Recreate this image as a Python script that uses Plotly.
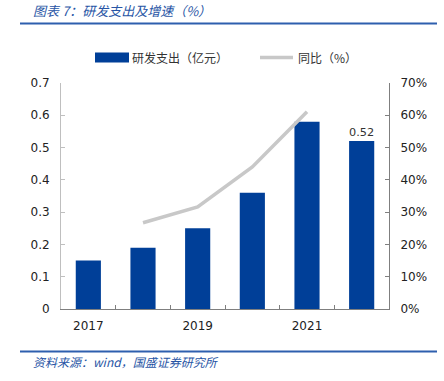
import plotly.graph_objects as go

years = ["2017", "2018", "2019", "2020", "2021", "2022"]
rd_spend = [0.15, 0.19, 0.25, 0.36, 0.58, 0.52]
growth = [None, 26.7, 31.6, 44.0, 61.1, None]
tick_text = ["2017", "", "2019", "", "2021", ""]
bar_labels = ["", "", "", "", "", "0.52"]

W, H = 444, 381
L, R, T, B = 61, 389, 83, 309

def px(x):
    return (x - L) / (R - L)

def py(y):
    return (B - y) / (B - T)

BLUE = "#003f98"
GREY = "#c8c8c8"
TXT_BLUE = "#2855a5"
FONT = "DejaVu Sans"
CJK = "Noto Sans CJK SC"

fig = go.Figure()
fig.add_trace(go.Bar(
    x=years, y=rd_spend, marker=dict(color=BLUE, line=dict(width=0)),
    text=bar_labels, textposition="outside", cliponaxis=False,
    textfont=dict(family=FONT, size=13, color="#333333"),
    name="研发支出（亿元）", hoverinfo="x+y",
))
fig.add_trace(go.Scatter(
    x=years, y=growth, yaxis="y2", mode="lines",
    line=dict(color=GREY, width=3.5), name="同比（%）",
    connectgaps=False,
))

shapes = [
    dict(type="line", xref="paper", yref="paper", x0=px(20), x1=px(437), y0=py(23.5), y1=py(23.5),
         line=dict(color="#2e5fae", width=2)),
    dict(type="line", xref="paper", yref="paper", x0=px(20), x1=px(437), y0=py(351.5), y1=py(351.5),
         line=dict(color="#2e5fae", width=2)),
    dict(type="rect", xref="paper", yref="paper", x0=px(95), x1=px(129), y0=py(62.5), y1=py(52.5),
         fillcolor=BLUE, line=dict(width=0)),
    dict(type="line", xref="paper", yref="paper", x0=px(260), x1=px(293), y0=py(57.5), y1=py(57.5),
         line=dict(color=GREY, width=3.5)),
]

annotations = [
    dict(text="<i>图表 7：研发支出及增速（%）</i>", xref="paper", yref="paper", x=px(31), y=py(11),
         xanchor="left", yanchor="middle", showarrow=False,
         font=dict(family=CJK, size=13, color=TXT_BLUE)),
    dict(text="<i>资料来源：wind，国盛证券研究所</i>", xref="paper", yref="paper", x=px(31), y=py(361),
         xanchor="left", yanchor="middle", showarrow=False,
         font=dict(family=CJK, size=12, color=TXT_BLUE)),
    dict(text="研发支出（亿元）", xref="paper", yref="paper", x=px(130), y=py(57.5),
         xanchor="left", yanchor="middle", showarrow=False,
         font=dict(family=CJK, size=12, color="#333333")),
    dict(text="同比（%）", xref="paper", yref="paper", x=px(296), y=py(57.5),
         xanchor="left", yanchor="middle", showarrow=False,
         font=dict(family=CJK, size=12, color="#333333")),
]

fig.update_layout(
    width=W, height=H,
    margin=dict(l=L, r=W - R, t=T, b=H - B, pad=0),
    paper_bgcolor="white", plot_bgcolor="white",
    showlegend=False, bargap=0.54,
    shapes=shapes, annotations=annotations,
    xaxis=dict(
        type="category", tickmode="array", tickvals=years, ticktext=tick_text,
        tickson="boundaries", ticks="inside", ticklen=4, tickcolor="#7f7f7f",
        showline=True, linecolor="#7f7f7f", linewidth=1, showgrid=False,
        tickfont=dict(family=FONT, size=12, color="#222222"),
        ticklabelstandoff=6, range=[-0.5, 5.5],
    ),
    yaxis=dict(
        range=[0, 0.7], dtick=0.1, tick0=0, ticks="inside", ticklen=4, tickcolor="#bfbfbf",
        showline=True, linecolor="#bfbfbf", linewidth=1, showgrid=False, zeroline=False,
        tickfont=dict(family=FONT, size=12, color="#222222"), ticklabelstandoff=8,
    ),
    yaxis2=dict(
        overlaying="y", side="right", range=[0, 70], dtick=10, tick0=0, ticksuffix="%",
        ticks="inside", ticklen=4, tickcolor="#7f7f7f",
        showline=True, linecolor="#7f7f7f", linewidth=1, showgrid=False, zeroline=False,
        tickfont=dict(family=FONT, size=12, color="#222222"), ticklabelstandoff=8,
    ),
)

fig.write_html(
    "out.html",
    config={"displayModeBar": False},
    post_script="document.body.style.margin='0';document.body.style.overflow='hidden';",
)
